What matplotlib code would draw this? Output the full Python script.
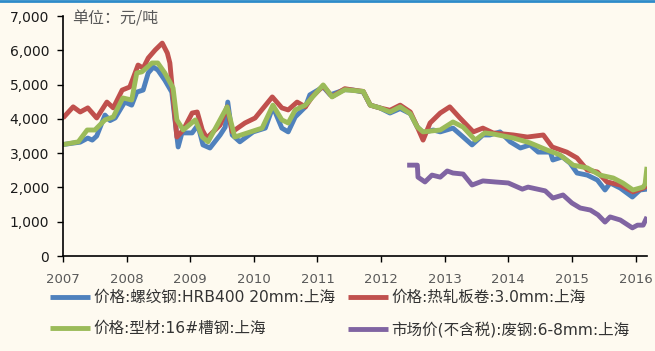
import matplotlib
matplotlib.use("Agg")
import matplotlib.pyplot as plt
from matplotlib.lines import Line2D

plt.rcParams['font.family'] = ['DejaVu Sans', 'Noto Sans CJK SC']

# ---- data (decimal years, yuan/ton) ----
rebar_t = [2007.00, 2007.11, 2007.27, 2007.39, 2007.46, 2007.53, 2007.66, 2007.74, 2007.82, 2007.97,
           2008.08, 2008.16, 2008.26, 2008.34, 2008.42, 2008.49, 2008.60, 2008.71, 2008.76, 2008.81,
           2008.87, 2009.03, 2009.12, 2009.20, 2009.31, 2009.47, 2009.55, 2009.59, 2009.66, 2009.78,
           2009.99, 2010.18, 2010.30, 2010.44, 2010.54, 2010.65, 2010.81, 2010.88, 2011.09, 2011.20,
           2011.43, 2011.56, 2011.72, 2011.83, 2011.98, 2012.14, 2012.30, 2012.46, 2012.57, 2012.66,
           2012.82, 2012.93, 2013.13, 2013.29, 2013.43, 2013.60, 2013.71, 2013.87, 2014.03, 2014.19,
           2014.34, 2014.47, 2014.66, 2014.70, 2014.85, 2014.97, 2015.08, 2015.24, 2015.40, 2015.52,
           2015.60, 2015.76, 2015.95, 2016.07, 2016.18]
rebar_v = [3250, 3280, 3320, 3440, 3380, 3500, 4110, 3950, 4025, 4490,
           4400, 4780, 4840, 5340, 5510, 5425, 5130, 4780, 3970, 3180,
           3590, 3590, 3820, 3240, 3150, 3530, 3760, 4490, 3530, 3330,
           3620, 3730, 4350, 3730, 3620, 4055, 4350, 4700, 4930, 4700,
           4850, 4840, 4780, 4400, 4320, 4170, 4300, 4150, 3760, 3600,
           3675, 3620, 3730, 3470, 3240, 3530, 3530, 3620, 3330, 3150,
           3240, 3030, 3030, 2800, 2890, 2710, 2420, 2360, 2215, 1925,
           2130, 1980, 1720, 1925, 1950]

hrc_t = [2007.00, 2007.16, 2007.27, 2007.39, 2007.53, 2007.69, 2007.79, 2007.93, 2008.05, 2008.18,
         2008.26, 2008.34, 2008.45, 2008.56, 2008.64, 2008.68, 2008.73, 2008.79, 2008.89, 2009.03,
         2009.11, 2009.19, 2009.26, 2009.47, 2009.58, 2009.66, 2009.86, 2010.02, 2010.29, 2010.44,
         2010.54, 2010.68, 2010.81, 2010.92, 2011.09, 2011.23, 2011.43, 2011.56, 2011.72, 2011.83,
         2011.98, 2012.14, 2012.30, 2012.46, 2012.57, 2012.66, 2012.77, 2012.93, 2013.08, 2013.24,
         2013.45, 2013.60, 2013.76, 2014.08, 2014.30, 2014.55, 2014.69, 2014.92, 2015.08, 2015.24,
         2015.40, 2015.55, 2015.76, 2015.96, 2016.12, 2016.18]
hrc_v = [4025, 4350, 4200, 4320, 4025, 4490, 4320, 4840, 4930, 5570,
         5480, 5775, 6010, 6210, 5920, 5630, 4640, 3470, 3675, 4170,
         4200, 3675, 3440, 3820, 4350, 3620, 3880, 4025, 4640, 4320,
         4260, 4490, 4350, 4650, 4960, 4650, 4880, 4840, 4800, 4400,
         4320, 4250, 4400, 4200, 3760, 3380, 3880, 4170, 4350, 4025,
         3620, 3730, 3590, 3530, 3470, 3530, 3180, 3030, 2860, 2510,
         2450, 2160, 2070, 1870, 1980, 2040]

channel_t = [2007.00, 2007.24, 2007.38, 2007.50, 2007.66, 2007.79, 2007.94, 2008.08, 2008.16, 2008.24,
             2008.40, 2008.49, 2008.60, 2008.73, 2008.79, 2008.89, 2009.08, 2009.19, 2009.28, 2009.58,
             2009.70, 2010.13, 2010.30, 2010.44, 2010.54, 2010.65, 2010.81, 2011.09, 2011.23, 2011.43,
             2011.72, 2011.83, 2011.98, 2012.14, 2012.30, 2012.46, 2012.57, 2012.66, 2012.93, 2013.13,
             2013.29, 2013.48, 2013.63, 2013.76, 2014.08, 2014.34, 2014.61, 2014.81, 2015.02, 2015.24,
             2015.44, 2015.65, 2015.80, 2015.96, 2016.12, 2016.15, 2016.18]
channel_v = [3250, 3330, 3675, 3675, 3970, 4055, 4610, 4550, 5340, 5370,
             5630, 5630, 5340, 4900, 3970, 3675, 3970, 3470, 3330, 4350,
             3470, 3730, 4400, 3970, 3880, 4260, 4400, 4990, 4640, 4850,
             4800, 4400, 4320, 4200, 4350, 4150, 3760, 3620, 3675, 3910,
             3760, 3380, 3590, 3560, 3440, 3300, 3090, 2950, 2650, 2570,
             2360, 2275, 2130, 1925, 2010, 2100, 2600]

scrap_t = [2012.41, 2012.57, 2012.58, 2012.69, 2012.80, 2012.93, 2013.04, 2013.13, 2013.29, 2013.43,
           2013.60, 2013.79, 2014.00, 2014.22, 2014.31, 2014.58, 2014.70, 2014.86, 2015.00, 2015.13,
           2015.29, 2015.41, 2015.52, 2015.60, 2015.76, 2015.95, 2016.03, 2016.12, 2016.18]
scrap_v = [2650, 2650, 2300, 2160, 2360, 2300, 2480, 2420, 2390, 2070,
           2190, 2160, 2130, 1950, 2010, 1900, 1690, 1780, 1545, 1400,
           1340, 1200, 990, 1140, 1050, 820, 900, 900, 1140]

labels = ['价格:螺纹钢:HRB400 20mm:上海', '价格:热轧板卷:3.0mm:上海',
          '价格:型材:16#槽钢:上海', '市场价(不含税):废钢:6-8mm:上海']
year_ticks = list(range(2007, 2017))
y_ticks = [0, 1000, 2000, 3000, 4000, 5000, 6000, 7000]

colors = ['#4F81BD', '#C0504D', '#9BBB59', '#8064A2']
bg = '#FEFAF0'

W, H = 655, 351
fig = plt.figure(figsize=(W / 100, H / 100), dpi=100, facecolor=bg)
ax = fig.add_axes([63 / W, 1 - 256 / H, (647 - 63) / W, (256 - 16) / H], facecolor=bg)

lw = 3.5
kw = dict(lw=lw, solid_joinstyle='round', solid_capstyle='butt')
h1, = ax.plot(rebar_t, rebar_v, color=colors[0], **kw)
h2, = ax.plot(hrc_t, hrc_v, color=colors[1], **kw)
h3, = ax.plot(channel_t, channel_v, color=colors[2], **kw)
h4, = ax.plot(scrap_t, scrap_v, color=colors[3], **kw)

ax.set_xlim(2007, 2016.18)
ax.set_ylim(0, 7000)
ax.set_xticks(year_ticks)
ax.set_xticklabels([str(y) for y in year_ticks], fontsize=9.5, color='#595959')
ax.set_yticks(y_ticks)
ax.set_yticklabels([f'{v:,}' for v in y_ticks], fontsize=10, color='#1a1a1a')
ax.tick_params(axis='both', direction='out', length=4, width=1, color='black')
ax.tick_params(axis='x', pad=8)
ax.tick_params(axis='y', pad=6)
for s in ['top', 'right']:
    ax.spines[s].set_visible(False)
for s in ['left', 'bottom']:
    ax.spines[s].set_color('black')
    ax.spines[s].set_linewidth(1.2)

ax.text(72 / W, 1 - 19.5 / H, '单位：元/吨', transform=fig.transFigure, fontsize=11.5, color='#595959',
        va='center', ha='left', family=['Noto Sans CJK SC', 'DejaVu Sans'])

leg_kw = dict(frameon=False, fontsize=11.2, handlelength=2.6, handletextpad=0.2,
              borderpad=0, borderaxespad=0, labelspacing=1.05, loc='upper left',
              bbox_transform=fig.transFigure, labelcolor='#333333')
leg1 = fig.legend([h1, h3], [labels[0], labels[2]], bbox_to_anchor=(50 / W, 1 - 290 / H), **leg_kw)
leg2 = fig.legend([h2, h4], [labels[1], labels[3]], bbox_to_anchor=(348 / W, 1 - 290 / H), **leg_kw)

fig.add_artist(Line2D([0, 1], [1 - 1 / H, 1 - 1 / H], transform=fig.transFigure,
                      color='#2E8BC9', lw=2))

fig.savefig('out.png', dpi=100, facecolor=bg)
